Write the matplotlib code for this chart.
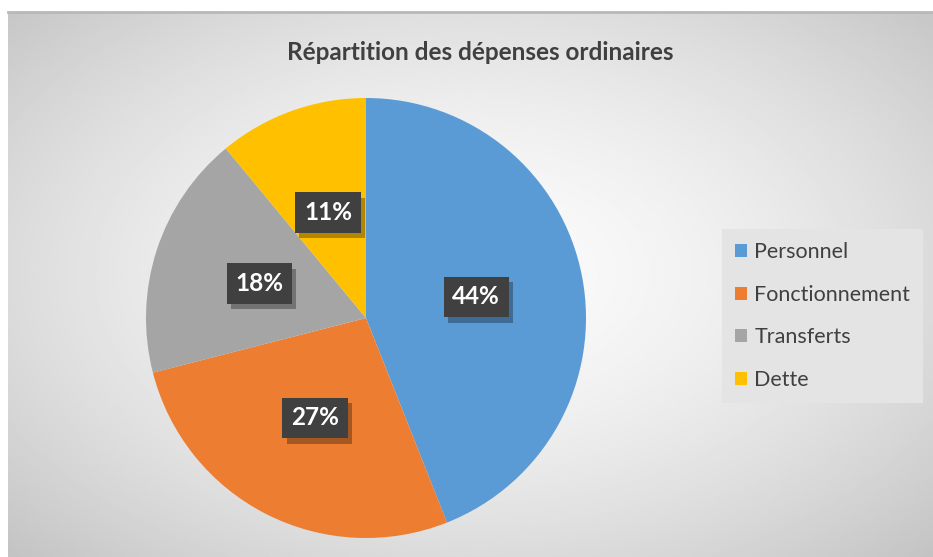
import numpy as np
import matplotlib.pyplot as plt
from matplotlib.patches import Patch
import matplotlib.patheffects as pe

# data
categories = ["Personnel", "Fonctionnement", "Transferts", "Dette"]
shares = [44, 27, 18, 11]
colors = ["#5B9BD5", "#ED7D31", "#A5A5A5", "#FFC000"]
title = "Répartition des dépenses ordinaires"

plt.rcParams['font.family'] = ['Lato', 'DejaVu Sans']
text_color = "#404040"

W, H = 933, 557
fig = plt.figure(figsize=(W / 100, H / 100), dpi=100)
fig.patch.set_facecolor("white")

# chart area background with radial gradient
bg = fig.add_axes([8 / W, 0, (W - 8) / W, (H - 12) / H])
yy, xx = np.mgrid[0:1:300j, 0:1:500j]
r = np.sqrt(((xx - 0.5) / 0.5) ** 2 + ((yy - 0.52) / 0.52) ** 2) / np.sqrt(2)
shade = 0.985 - 0.22 * r ** 1.6
bg.imshow(shade, cmap="gray", vmin=0, vmax=1, aspect="auto",
          extent=[0, 1, 0, 1], origin="lower")
bg.plot([0, 1], [1, 1], color="#b8b8b8", lw=2, clip_on=False)
bg.set_xlim(0, 1)
bg.set_ylim(0, 1)
bg.axis("off")

# pie
cx, cy, rad = 366, 318, 220
ax = fig.add_axes([(cx - rad) / W, (H - cy - rad) / H, 2 * rad / W, 2 * rad / H])
wedges, _ = ax.pie(shares, colors=colors, startangle=90, counterclock=False,
                   radius=1, wedgeprops=dict(linewidth=0))
ax.set_xlim(-1, 1)
ax.set_ylim(-1, 1)
ax.set_aspect("equal")

total = float(sum(shares))
start = 90.0
for val in shares:
    mid = np.deg2rad(start - val / total * 360 / 2)
    start -= val / total * 360
    x, y = 0.51 * np.cos(mid), 0.51 * np.sin(mid)
    t = ax.text(x, y, f"{val}%", ha="center", va="center", fontsize=17.5,
                fontweight="bold", color="white",
                bbox=dict(boxstyle="square,pad=0.36", facecolor="#404040",
                          edgecolor="none"))
    t.get_bbox_patch().set_path_effects(
        [pe.SimplePatchShadow(offset=(3, -4), shadow_rgbFace="black", alpha=0.3),
         pe.Normal()])

fig.text(480 / W, 1 - 52 / H, title, ha="center", va="center",
         fontsize=17.5, fontweight="bold", color=text_color)

handles = [Patch(facecolor=c, edgecolor="none") for c in colors]
leg = fig.legend(handles, categories, loc="center left",
                 bbox_to_anchor=(722 / W, 1 - 316 / H),
                 frameon=True, fancybox=False, framealpha=1,
                 facecolor="#e4e4e4", edgecolor="none",
                 fontsize=15.5, labelcolor=text_color,
                 handlelength=0.55, handleheight=0.55, handletextpad=0.35,
                 labelspacing=1.05, borderpad=0.6, borderaxespad=0)

fig.savefig("out.png", dpi=100)
